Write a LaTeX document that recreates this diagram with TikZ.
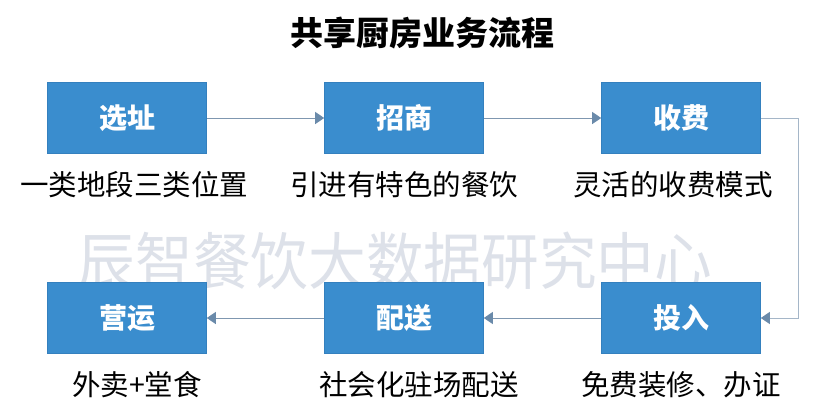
\documentclass[tikz,border=0pt]{standalone}
\usepackage{fontspec}
\newfontfamily\cjk{Noto Sans CJK SC}
\usetikzlibrary{arrows.meta,positioning}
\definecolor{boxblue}{HTML}{3A8DCE}
\definecolor{boxedge}{HTML}{3480BE}
\definecolor{flowline}{HTML}{7F97B0}
\definecolor{flowtip}{HTML}{6A8AAA}
\definecolor{marktext}{HTML}{DDE1E9}

\begin{document}
\begin{tikzpicture}[x=1pt,y=-1pt,node distance=200pt and 277pt,on grid,
    >={Triangle[length=9pt,width=12pt,color=flowtip]},
    stage/.style={rectangle,fill=boxblue,draw=boxedge,line width=0.6pt,
      minimum width=159pt,minimum height=71pt,inner sep=0pt,
      text=white,font=\cjk\bfseries\fontsize{28}{28}\selectfont},
    note/.style={font=\cjk\fontsize{28.5}{28.5}\selectfont,text=black,inner sep=0pt},
    flow/.style={draw=flowline,line width=1pt}]
    \useasboundingbox (0,0) rectangle (813,418);
    \fill[white] (0,0) rectangle (813,418);

    % watermark behind the boxes
    \node[font=\cjk\fontsize{62}{62}\selectfont,text=marktext,inner sep=0pt,xscale=0.93] (mark) at (395,261) {辰智餐饮大数据研究中心};

    \node[font=\cjk\bfseries\fontsize{33}{33}\selectfont,inner sep=0pt] (title) at (422,33) {共享厨房业务流程};

    \node[stage] (site) at (127,118) {选址};
    \node[stage] (invite) [right=of site] {招商};
    \node[stage] (fee) [right=of invite] {收费};
    \node[stage] (invest) [below=of fee] {投入};
    \node[stage] (deliver) [left=of invest] {配送};
    \node[stage] (run) [left=of deliver] {营运};

    \node[note] (site t) [below=67pt of site,xshift=7pt] {一类地段三类位置};
    \node[note] (invite t) [below=67pt of invite] {引进有特色的餐饮};
    \node[note] (fee t) [below=67pt of fee,xshift=-8pt] {灵活的收费模式};
    \node[note] (invest t) [below=67pt of invest] {免费装修、办证};
    \node[note] (deliver t) [below=67pt of deliver,xshift=15pt] {社会化驻场配送};
    \node[note] (run t) [below=67pt of run,xshift=10pt] {外卖+堂食};

    \coordinate (turn) at ([xshift=38pt]fee.east);
    \path[flow,->]
    (site) edge (invite)
    (invite) edge (fee)
    (invest) edge (deliver)
    (deliver) edge (run);
    \draw[flow,draw=flowline!70,->] (fee.east) -- (turn) |- (invest.east);
\end{tikzpicture}
\end{document}
